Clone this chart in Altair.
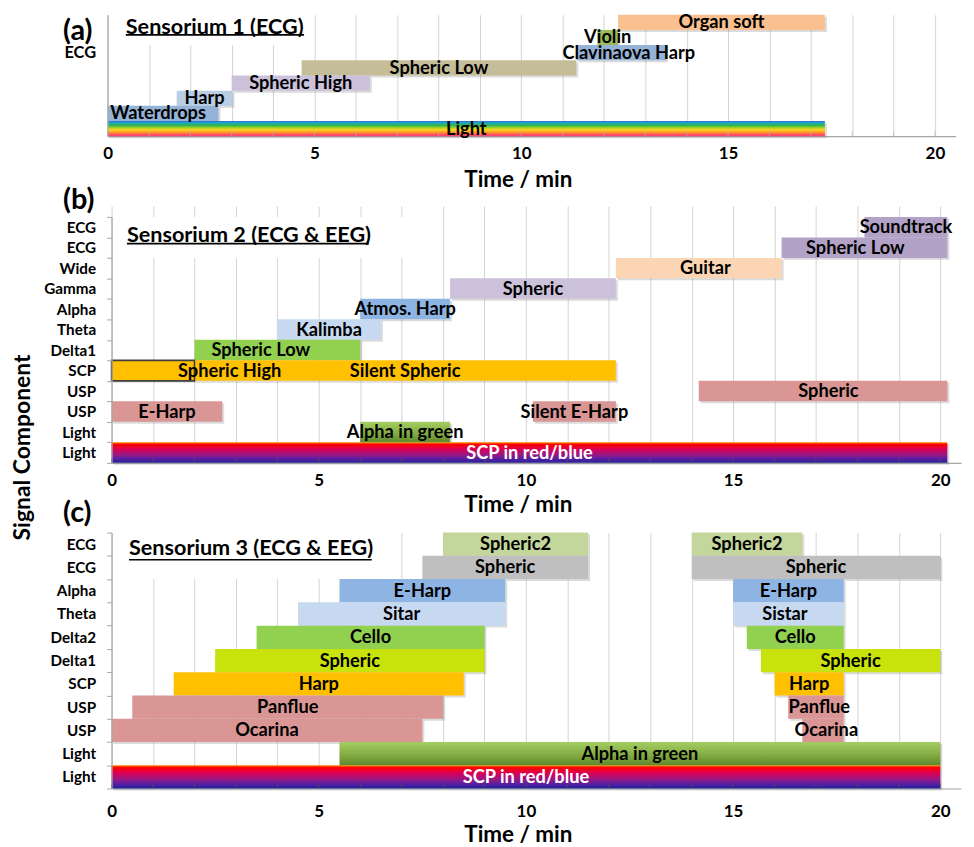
import altair as alt
import pandas as pd

FONT = "Lato"
X_MAX = 20.5
PLOT_W = 853
GRID = "#D4D4D4"
AXIS = "#A6A6A6"

# ---------------- Panel (a): Sensorium 1 (ECG) ----------------
a_row_labels = ["", "", "ECG", "", "", "", "", ""]
a_bar_row = [0, 1, 2, 3, 4, 5, 6, 7]
a_bar_name = ["Organ soft", "Violin", "Clavinaova Harp", "Spheric Low",
              "Spheric High", "Harp", "Waterdrops", "Light"]
a_bar_start = [12.34, 11.84, 11.33, 4.69, 3.0, 1.67, 0.0, 0.0]
a_bar_end = [17.34, 12.34, 13.5, 11.33, 6.34, 3.02, 2.68, 17.34]
a_bar_fill = ["#FAC090", "#9BBB59", "#95B3D7", "#C4BD97",
              "#CCC1DA", "#B9CDE5", "#95B3D7", "rainbow"]
a_label_x = [None, None, 12.6, None, None, None, 1.22, None]

# ---------------- Panel (b): Sensorium 2 (ECG & EEG) ----------------
b_row_labels = ["ECG", "ECG", "Wide", "Gamma", "Alpha", "Theta", "Delta1",
                "SCP", "USP", "USP", "Light", "Light"]
b_bar_row = [0, 1, 2, 3, 4, 5, 6, 7, 7, 8, 9, 9, 10, 11]
b_bar_name = ["Soundtrack", "Spheric Low", "Guitar", "Spheric", "Atmos. Harp",
              "Kalimba", "Spheric Low", "Spheric High", "Silent Spheric",
              "Spheric", "E-Harp", "Silent E-Harp", "Alpha in green",
              "SCP in red/blue"]
b_bar_start = [18.17, 16.17, 12.17, 8.17, 6.0, 4.0, 2.0, 0.0, 2.0,
               14.17, 0.0, 10.17, 6.0, 0.0]
b_bar_end = [20.17, 20.17, 16.17, 12.17, 8.17, 6.5, 6.0, 2.0, 12.17,
             20.17, 2.67, 12.17, 8.17, 20.17]
b_bar_fill = ["#B3A2C7", "#B3A2C7", "#FCD5B5", "#CCC1DA", "#8EB4E3",
              "#C6D9F1", "#92D050", "#FFC000", "#FFC000", "#D99694",
              "#D99694", "#D99694", "green", "redblue"]
b_label_x = [None, 17.95, 14.33, None, None, None, 3.6, 2.85, None,
             17.3, None, None, None, None]
b_outline = [False] * 7 + [True] + [False] * 6

# ---------------- Panel (c): Sensorium 3 (ECG & EEG) ----------------
c_row_labels = ["ECG", "ECG", "Alpha", "Theta", "Delta2", "Delta1", "SCP",
                "USP", "USP", "Light", "Light"]
c_bar_row = [0, 0, 1, 1, 2, 2, 3, 3, 4, 4, 5, 5, 6, 6, 7, 7, 8, 8, 9, 10]
c_bar_name = ["Spheric2", "Spheric2", "Spheric", "Spheric", "E-Harp", "E-Harp",
              "Sitar", "Sistar", "Cello", "Cello", "Spheric", "Spheric",
              "Harp", "Harp", "Panflue", "Panflue", "Ocarina", "Ocarina",
              "Alpha in green", "SCP in red/blue"]
c_bar_start = [8.0, 14.0, 7.5, 14.0, 5.5, 15.0, 4.5, 15.0, 3.5, 15.33,
               2.5, 15.67, 1.5, 16.0, 0.5, 16.33, 0.0, 16.67, 5.5, 0.0]
c_bar_end = [11.5, 16.67, 11.5, 20.0, 9.5, 17.67, 9.5, 17.67, 9.0, 17.67,
             9.0, 20.0, 8.5, 17.67, 8.0, 17.67, 7.5, 17.67, 20.0, 20.0]
c_bar_fill = ["#C3D69B", "#C3D69B", "#BFBFBF", "#BFBFBF", "#8EB4E3", "#8EB4E3",
              "#C6D9F1", "#C6D9F1", "#92D050", "#92D050", "#C8E30B", "#C8E30B",
              "#FFC000", "#FFC000", "#D99694", "#D99694", "#D99694", "#D99694",
              "green", "redblue"]
c_label_x = [None, None, None, None, None, None, None, 16.25, None, None,
             None, None, None, None, None, 17.08, None, 17.25, None, None]

# panel tags and headings
tags = ["(a)", "(b)", "(c)"]
tag_x = [-1.076, -1.17, -1.17]          # minutes (left of the axis)
titles = ["Sensorium 1 (ECG)", "Sensorium 2 (ECG & EEG)", "Sensorium 3 (ECG & EEG)"]
title_x0 = [0.44, 0.37, 0.42]
title_x1 = [4.75, 6.21, 6.28]
# white box behind headings (gridlines hidden there), in minutes
mask_end = [4.8, 7.5, 6.5]

x_tick_values = list(range(0, 21))

GRADIENTS = {
    "rainbow": alt.LinearGradient(gradient="linear", x1=0, x2=0, y1=0, y2=1, stops=[
        alt.GradientStop(color="#2F6ED8", offset=0.0),
        alt.GradientStop(color="#1FA9C9", offset=0.12),
        alt.GradientStop(color="#2DB34A", offset=0.28),
        alt.GradientStop(color="#A8D22A", offset=0.45),
        alt.GradientStop(color="#FFD21F", offset=0.58),
        alt.GradientStop(color="#FF9A20", offset=0.74),
        alt.GradientStop(color="#FF5560", offset=0.88),
        alt.GradientStop(color="#FF3C7C", offset=1.0)]),
    "redblue": alt.LinearGradient(gradient="linear", x1=0, x2=0, y1=0, y2=1, stops=[
        alt.GradientStop(color="#FF8C00", offset=0.0),
        alt.GradientStop(color="#FF0000", offset=0.1),
        alt.GradientStop(color="#D8005A", offset=0.35),
        alt.GradientStop(color="#9A1882", offset=0.6),
        alt.GradientStop(color="#5A1FA0", offset=0.8),
        alt.GradientStop(color="#22209A", offset=1.0)]),
    "green": alt.LinearGradient(gradient="linear", x1=0, x2=0, y1=0, y2=1, stops=[
        alt.GradientStop(color="#A3CE62", offset=0.0),
        alt.GradientStop(color="#84AC44", offset=0.55),
        alt.GradientStop(color="#5F8A2C", offset=1.0)]),
}


def make_bars(rows, names, starts, ends, fills, label_x, outline=None):
    df = pd.DataFrame({"row": rows, "name": names, "start": starts,
                       "end": ends, "fill": fills})
    df["lx"] = [lx if lx is not None else (s + e) / 2
                for lx, s, e in zip(label_x, starts, ends)]
    df["tcolor"] = ["#FFFFFF" if f == "redblue" else "#000000" for f in fills]
    df["outline"] = outline if outline is not None else [False] * len(rows)
    return df


def panel(df, row_labels, idx, height, y_range, x_range, y_axis,
          x_label_pad, x_title_pad, tag_dy, title_dy, underline_row, underline_dy,
          tick_dy, tick_color):
    n = len(row_labels)
    yscale = alt.Scale(domain=list(range(n)), range=y_range,
                       paddingInner=0, paddingOuter=0)
    xscale = alt.Scale(domain=[0, X_MAX], range=x_range, nice=False, zero=False)
    x_axis = alt.Axis(values=x_tick_values,
                      labelExpr="datum.value % 5 === 0 ? datum.label : ''",
                      labelOverlap=False, labelFlush=False, grid=True,
                      gridColor=GRID, gridWidth=1,
                      ticks=False, domainColor=AXIS, domainWidth=1.2,
                      labelFont=FONT, labelFontSize=17, labelFontWeight="bold",
                      labelColor="#000000", labelPadding=x_label_pad,
                      title="Time / min", titleFont=FONT, titleFontSize=22.5,
                      titleFontWeight="bold", titleColor="#000000",
                      titlePadding=x_title_pad, titleX=408, titleAlign="center")
    ytitle = "Signal Component" if idx == 1 else None

    def X(field):
        return alt.X(field, scale=xscale, axis=x_axis, title="Time / min")

    def Yt():
        return alt.Y("row:O", scale=yscale, axis=y_axis, title=ytitle)

    mask_df = pd.DataFrame({"row": [0, 1], "start": [0.05, 0.05],
                            "end": [mask_end[idx]] * 2})
    mask = alt.Chart(mask_df).mark_rect(color="white").encode(
        x=X("start:Q"), x2="end:Q", y=Yt())

    base = alt.Chart(df)
    shadow = base.mark_rect(color="#7F7F7F", opacity=0.28, xOffset=2, x2Offset=2,
                            yOffset=2).encode(x=X("start:Q"), x2="end:Q", y=Yt())
    solid = base.transform_filter(
        "indexof(['rainbow','redblue','green'], datum.fill) < 0"
    ).mark_rect().encode(x=X("start:Q"), x2="end:Q", y=Yt(),
                         color=alt.Color("fill:N", scale=None))
    layers = [mask, shadow, solid]
    for gname, grad in GRADIENTS.items():
        if gname in set(df["fill"]):
            layers.append(base.transform_filter(f"datum.fill === '{gname}'")
                          .mark_rect(fill=grad)
                          .encode(x=X("start:Q"), x2="end:Q", y=Yt()))
    if df["outline"].any():
        layers.append(base.transform_filter("datum.outline")
                      .mark_rect(fillOpacity=0, stroke="#3F3F3F", strokeWidth=1.6)
                      .encode(x=X("start:Q"), x2="end:Q", y=Yt()))

    # small inward tick marks at every minute along the time axis
    tick_df = pd.DataFrame({"minute": x_tick_values, "row": [n - 1] * len(x_tick_values)})
    ticks = alt.Chart(tick_df).mark_tick(orient="vertical", size=5, thickness=1,
                                         color=tick_color, yOffset=tick_dy).encode(
        x=X("minute:Q"), y=Yt())
    layers.append(ticks)

    labels = base.mark_text(font=FONT, fontSize=18.3, fontWeight="bold",
                            align="center", baseline="middle", dy=1).encode(
        x=X("lx:Q"), y=Yt(), text="name:N",
        color=alt.Color("tcolor:N", scale=None))
    layers.append(labels)

    tdf = pd.DataFrame({"row": [0], "x": [title_x0[idx]], "text": [titles[idx]]})
    head = alt.Chart(tdf).mark_text(font=FONT, fontSize=21.7, fontWeight="bold",
                                    align="left", baseline="middle", dy=title_dy,
                                    color="#000000").encode(
        x=X("x:Q"), y=Yt(), text="text:N")
    udf = pd.DataFrame({"row": [underline_row], "x": [title_x0[idx]],
                        "x2": [title_x1[idx]]})
    uline = alt.Chart(udf).mark_rule(color="#000000", strokeWidth=1.6,
                                     yOffset=underline_dy).encode(
        x=X("x:Q"), x2="x2:Q", y=Yt())
    gdf = pd.DataFrame({"row": [0], "x": [tag_x[idx]], "text": [tags[idx]]})
    tag = alt.Chart(gdf).mark_text(font=FONT, fontSize=29, fontWeight="bold",
                                   align="left", baseline="middle", dy=tag_dy,
                                   color="#000000").encode(
        x=X("x:Q"), y=Yt(), text="text:N")
    layers += [head, uline, tag]

    return alt.layer(*layers).properties(width=PLOT_W, height=height)


def label_expr(labels):
    return "[" + ",".join("'" + s + "'" for s in labels) + "][datum.value]"


ya = alt.Axis(labelExpr=label_expr(a_row_labels), ticks=False, grid=False,
              domainColor=AXIS, domainWidth=1.2, offset=4, labelFont=FONT,
              labelFontSize=16.5, labelFontWeight="bold", labelColor="#000000",
              labelPadding=12)
yb = alt.Axis(labelExpr=label_expr(b_row_labels), tickBand="extent", ticks=True,
              tickSize=5, tickColor=AXIS, grid=False, domainColor=AXIS,
              domainWidth=1.2, labelFont=FONT, labelFontSize=15.3,
              labelFontWeight="bold", labelColor="#000000", labelPadding=11,
              titleX=-89, titleY=242, titleAngle=270, titleAlign="center",
              titleBaseline="middle", titleFont=FONT, titleFontSize=23,
              titleFontWeight="bold", titleColor="#000000")
yc = alt.Axis(labelExpr=label_expr(c_row_labels), tickBand="extent", ticks=True,
              tickSize=5, tickColor=AXIS, grid=False, domainColor=AXIS,
              domainWidth=1.2, labelFont=FONT, labelFontSize=15.3,
              labelFontWeight="bold", labelColor="#000000", labelPadding=11)

dfa = make_bars(a_bar_row, a_bar_name, a_bar_start, a_bar_end, a_bar_fill, a_label_x)
dfb = make_bars(b_bar_row, b_bar_name, b_bar_start, b_bar_end, b_bar_fill, b_label_x, b_outline)
dfc = make_bars(c_bar_row, c_bar_name, c_bar_start, c_bar_end, c_bar_fill, c_label_x)

pa = panel(dfa, a_row_labels, 0, 122, [0, 122], [-4, -4 + 41.54 * X_MAX], ya,
           9.5, 6.5, 8.9, 5, 1, -2.6, 5.1, "#B0B0B0")
pb = panel(dfb, b_row_labels, 1, 258, [11, 258], [0, PLOT_W], yb,
           9.5, 5.5, -26.9, 7.7, 1, -4, 7.8, "#505050")
pc = panel(dfc, c_row_labels, 2, 257, [0, 257], [0, PLOT_W], yc,
           15, 4.5, -31.7, 3.8, 0, 15.6, 9.2, "#505050")

chart = alt.vconcat(pa, pb, pc, spacing=70, bounds="flush").configure_view(
    stroke=None).properties(padding={"left": 4, "top": 3, "right": 5, "bottom": 0},
                            background="white")

chart.save("out.html", embed_options={"renderer": "svg", "actions": False})
